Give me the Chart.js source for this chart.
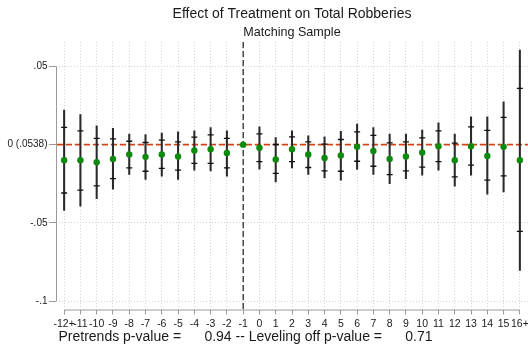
<!DOCTYPE html>
<html>
<head>
<meta charset="utf-8">
<script src="https://cdn.jsdelivr.net/npm/chart.js@4.4.1/dist/chart.umd.min.js"></script>
<style>
  html, body { margin: 0; padding: 0; background: #ffffff; }
  #wrap { width: 528px; height: 353px; }
</style>
</head>
<body>
<div id="wrap"><canvas id="c" width="528" height="353"></canvas></div>
<script>
// Event-time categories (months relative to treatment)
const periods = ['-12+','-11','-10','-9','-8','-7','-6','-5','-4','-3','-2','-1',
                 '0','1','2','3','4','5','6','7','8','9','10','11','12','13','14','15','16+'];

// Point estimates
const estimate = [-0.0099,-0.0099,-0.0112,-0.0091,-0.0063,-0.0078,-0.0063,-0.0076,-0.0037,-0.0029,-0.0053,0,
                  -0.0020,-0.0095,-0.0029,-0.0063,-0.0085,-0.0069,-0.0014,-0.0040,-0.0091,-0.0076,-0.0050,-0.0010,-0.0099,-0.0010,-0.0072,-0.0014,-0.0099];

// Outer confidence band (95%)
const hi95 = [0.0221,0.0193,0.0120,0.0104,0.0067,0.0065,0.0074,0.0082,0.0088,0.0110,0.0088,null,
              0.0114,0.0046,0.0088,0.0056,0.0050,0.0085,0.0131,0.0110,0.0067,0.0067,0.0093,0.0140,0.0067,0.0178,0.0178,0.0274,0.0605];
const lo95 = [-0.0420,-0.0394,-0.0345,-0.0285,-0.0191,-0.0223,-0.0202,-0.0223,-0.0163,-0.0168,-0.0202,null,
              -0.0157,-0.0238,-0.0149,-0.0191,-0.0213,-0.0227,-0.0159,-0.0191,-0.0249,-0.0217,-0.0195,-0.0163,-0.0266,-0.0195,-0.0317,-0.0302,-0.0804];

// Inner confidence band (90%)
const hi90 = [0.0110,0.0088,0.0040,0.0037,0.0022,0.0014,0.0029,0.0018,0.0048,0.0063,0.0040,null,
              0.0069,0.0001,0.0050,0.0018,0.0003,0.0033,0.0082,0.0059,0.0012,0.0018,0.0044,0.0088,0.0010,0.0114,0.0091,0.0174,0.0360];
const lo90 = [-0.0309,-0.0291,-0.0264,-0.0217,-0.0149,-0.0170,-0.0152,-0.0163,-0.0120,-0.0119,-0.0149,null,
              -0.0108,-0.0184,-0.0108,-0.0146,-0.0168,-0.0170,-0.0106,-0.0138,-0.0191,-0.0168,-0.0144,-0.0108,-0.0206,-0.0131,-0.0227,-0.0200,-0.0554];

// Y axis ticks and their labels
const yTicks = [-0.1, -0.05, 0, 0.05];
const yTickLabels = ['-.1', '-.05', '0 (.0538)', '.05'];

// Reference lines
const zeroLine = 0;
const eventPeriod = '-1';

// Test p-values
const pPretrends = '0.94';
const pLeveling = '0.71';

const FONT = "'Liberation Sans', Arial, Helvetica, sans-serif";
const AXIS_GREY = '#9a9a9a';
const GRID_GREY = '#d2d2d2';

const ciBars = periods.map((_, i) => (hi95[i] === null ? null : [lo95[i], hi95[i]]));

const refLines = {
  id: 'refLines',
  beforeDatasetsDraw(chart) {
    const { ctx, chartArea: a, scales: { x, y } } = chart;
    ctx.save();
    // axis lines spanning the outer ticks only
    ctx.strokeStyle = AXIS_GREY;
    ctx.lineWidth = 1;
    ctx.setLineDash([]);
    ctx.beginPath();
    ctx.moveTo(a.left + 0.5, y.getPixelForValue(yTicks[yTicks.length - 1]));
    ctx.lineTo(a.left + 0.5, y.getPixelForValue(yTicks[0]));
    ctx.moveTo(x.getPixelForValue(0), a.bottom + 0.5);
    ctx.lineTo(x.getPixelForValue(periods.length - 1), a.bottom + 0.5);
    ctx.stroke();
    // zero line
    const yz = y.getPixelForValue(zeroLine);
    ctx.strokeStyle = '#d4441b';
    ctx.lineWidth = 1.6;
    ctx.setLineDash([6, 3]);
    ctx.beginPath();
    ctx.moveTo(a.left + 1, yz);
    ctx.lineTo(a.right, yz);
    ctx.stroke();
    // treatment timing line
    const xe = x.getPixelForValue(periods.indexOf(eventPeriod));
    ctx.strokeStyle = '#1a1a1a';
    ctx.lineWidth = 1.2;
    ctx.setLineDash([6, 3]);
    ctx.beginPath();
    ctx.moveTo(xe, a.top);
    ctx.lineTo(xe, a.bottom);
    ctx.stroke();
    ctx.restore();
  },
  afterDraw(chart) {
    const { ctx, chartArea: a } = chart;
    ctx.save();
    ctx.font = '14px ' + FONT;
    ctx.fillStyle = '#1a1a1a';
    ctx.textAlign = 'left';
    ctx.textBaseline = 'middle';
    const note = 'Pretrends p-value =      ' + pPretrends + ' -- Leveling off p-value =      ' + pLeveling;
    ctx.fillText(note, a.left + 2.5, 337);
    ctx.restore();
  }
};

new Chart(document.getElementById('c'), {
  type: 'bar',
  data: {
    labels: periods,
    datasets: [
      {
        type: 'bar',
        data: ciBars,
        backgroundColor: '#2a2a2a',
        borderWidth: 0,
        barThickness: 1.4,
        grouped: false,
        order: 3
      },
      {
        type: 'line',
        data: hi90,
        showLine: false,
        pointStyle: 'line',
        pointRadius: 3,
        pointBorderWidth: 1.3,
        pointBorderColor: '#111111',
        order: 2
      },
      {
        type: 'line',
        data: lo90,
        showLine: false,
        pointStyle: 'line',
        pointRadius: 3,
        pointBorderWidth: 1.3,
        pointBorderColor: '#111111',
        order: 2
      },
      {
        type: 'line',
        data: estimate,
        showLine: false,
        pointStyle: 'circle',
        pointRadius: 3.2,
        pointBorderWidth: 0,
        pointBackgroundColor: '#0b8a0b',
        order: 1
      }
    ]
  },
  options: {
    responsive: false,
    animation: false,
    events: [],
    layout: { padding: 0, autoPadding: false },
    plugins: {
      legend: { display: false },
      tooltip: { enabled: false },
      title: {
        display: true,
        text: 'Effect of Treatment on Total Robberies',
        fullSize: false,
        color: '#1a1a1a',
        font: { family: FONT, size: 14, weight: 'normal', lineHeight: 1.2 },
        padding: { top: 6, bottom: 2 }
      },
      subtitle: {
        display: true,
        text: 'Matching Sample',
        fullSize: false,
        color: '#1a1a1a',
        font: { family: FONT, size: 12.6, weight: 'normal', lineHeight: 1.2 },
        padding: { top: 0, bottom: 2 }
      }
    },
    scales: {
      x: {
        type: 'category',
        offset: true,
        grid: {
          offset: false,
          color: GRID_GREY,
          lineWidth: 1,
          tickColor: AXIS_GREY,
          tickLength: 5,
          drawTicks: true
        },
        border: { display: false, dash: [1, 2] },
        ticks: {
          autoSkip: false,
          maxRotation: 0,
          minRotation: 0,
          padding: 3,
          color: '#1a1a1a',
          font: { family: FONT, size: 10.5 }
        },
        afterFit(s) { s.height = 43.5; s.paddingLeft = 0; s.paddingRight = 0; }
      },
      y: {
        type: 'linear',
        min: -0.1054,
        max: 0.0657,
        afterBuildTicks(s) { s.ticks = yTicks.map(v => ({ value: v })); },
        grid: {
          color: GRID_GREY,
          lineWidth: 1,
          tickColor: AXIS_GREY,
          tickLength: 7,
          drawTicks: true
        },
        border: { display: false, dash: [1, 2] },
        ticks: {
          padding: 1.5,
          color: '#1a1a1a',
          font: { family: FONT, size: 10 },
          callback: (v, i) => yTickLabels[i]
        },
        afterFit(s) { s.width = 56; s.paddingTop = 0; s.paddingBottom = 0; }
      }
    }
  },
  plugins: [refLines]
});
</script>
</body>
</html>
